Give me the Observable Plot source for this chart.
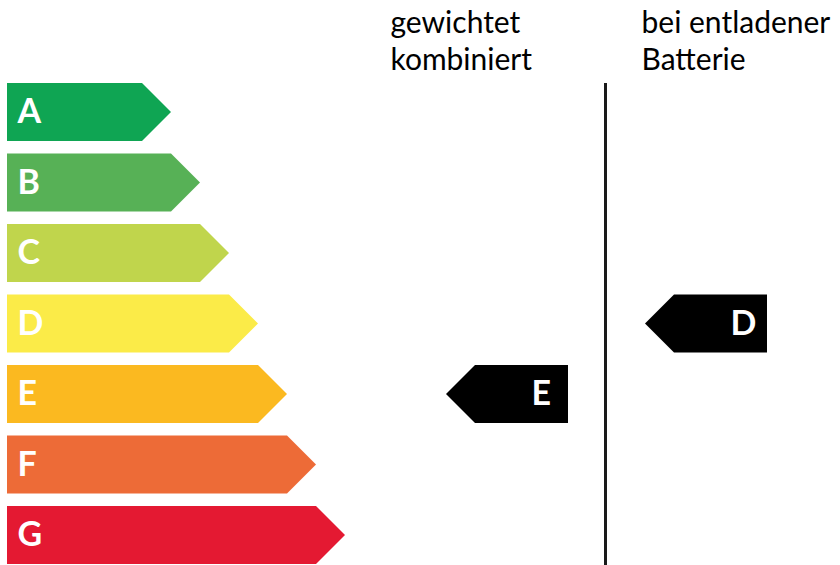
<!DOCTYPE html>
<html>
<head>
<meta charset="utf-8">
<script src="https://cdn.jsdelivr.net/npm/d3@7"></script>
<script src="https://cdn.jsdelivr.net/npm/@observablehq/plot@0.6"></script>
<style>
  html, body { margin: 0; padding: 0; background: #ffffff; }
  #chart svg { display: block; }
</style>
</head>
<body>
<div id="chart"></div>
<script>
// ---- data ----
const classes = ["A", "B", "C", "D", "E", "F", "G"];
const barLengths = [135, 164, 193, 222, 251, 280, 309];
const columnLabels = ["gewichtet\nkombiniert", "bei entladener\nBatterie"];
const columnRatings = ["E", "D"];

// ---- palette & layout (not data) ----
const classColors = ["#0fa553", "#57b156", "#c0d54c", "#fbeb48", "#fbb920", "#ed6b37", "#e41932"];
const layout = {
  width: 840, height: 565,
  rowStep: 70.5,        // px between row centres
  firstRowCenter: 112,  // px
  halfRow: 29,          // px
  tip: 29,              // px (45 degree arrow tip)
  columnTextX: [383, 634],
  columnArrowEnd: [561, 760],
  pointerWidth: 122,
  dividerX: 598,
  headerTop: 6.7
};

const half = layout.halfRow / layout.rowStep;
const yDomain = [-layout.firstRowCenter / layout.rowStep, (layout.height - layout.firstRowCenter) / layout.rowStep];
const pxToRow = (px) => (px - layout.firstRowCenter) / layout.rowStep;

const classRows = classes.map((c, i) => ({cls: c, row: i, len: barLengths[i]}));
const arrowPts = classRows.flatMap(d => [
  {cls: d.cls, y: d.row - half, x1: 0, x2: d.len},
  {cls: d.cls, y: d.row,        x1: 0, x2: d.len + layout.tip},
  {cls: d.cls, y: d.row + half, x1: 0, x2: d.len}
]);

const ratingRows = columnRatings.map((r, j) => ({
  col: j, rating: r, row: classes.indexOf(r),
  end: layout.columnArrowEnd[j], start: layout.columnArrowEnd[j] - layout.pointerWidth
}));
const pointerPts = ratingRows.flatMap(d => [
  {col: d.col, y: d.row - half, x1: d.start + layout.tip, x2: d.end},
  {col: d.col, y: d.row,        x1: d.start,              x2: d.end},
  {col: d.col, y: d.row + half, x1: d.start + layout.tip, x2: d.end}
]);

const headers = columnLabels.map((t, j) => ({text: t, x: layout.columnTextX[j]}));

const chart = Plot.plot({
  width: layout.width,
  height: layout.height,
  marginLeft: 7, marginRight: 0, marginTop: 0, marginBottom: 0,
  x: {domain: [0, layout.width - 7], axis: null},
  y: {domain: yDomain, range: [0, layout.height], axis: null},
  color: {domain: classes, range: classColors},
  style: {fontFamily: "Lato, 'Open Sans', sans-serif", background: "#ffffff", color: "#000"},
  marks: [
    Plot.areaX(arrowPts, {x1: "x1", x2: "x2", y: "y", z: "cls", fill: "cls", curve: "linear"}),
    Plot.text(classRows, {x: 10, y: "row", text: "cls", fill: "white", fontSize: 34, fontWeight: 700, textAnchor: "start"}),
    Plot.ruleX([layout.dividerX], {y1: -half, y2: yDomain[1], stroke: "#1a1a1a", strokeWidth: 3}),
    Plot.areaX(pointerPts, {x1: "x1", x2: "x2", y: "y", z: "col", fill: "black", curve: "linear"}),
    Plot.text(ratingRows, {x: d => d.end - 37, y: "row", text: "rating", fill: "white", fontSize: 34, fontWeight: 700, textAnchor: "start"}),
    Plot.text(headers, {x: "x", y: pxToRow(layout.headerTop), text: "text", textAnchor: "start", lineAnchor: "top", fontSize: 30, lineHeight: 1.233, fill: "black"})
  ]
});
document.getElementById("chart").appendChild(chart);
</script>
</body>
</html>
